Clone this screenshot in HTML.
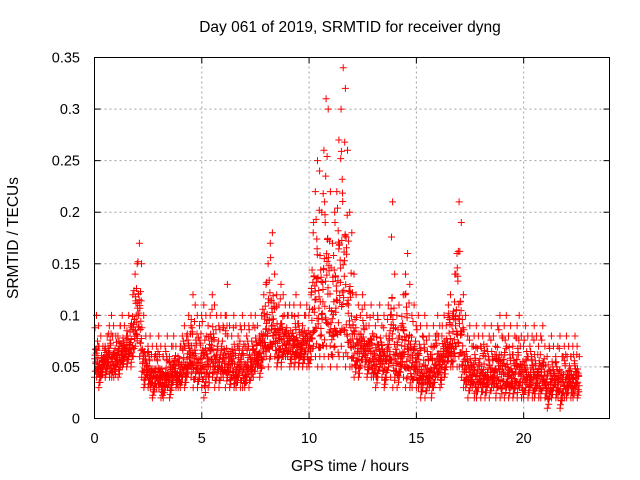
<!DOCTYPE html>
<html><head><meta charset="utf-8"><style>
body{margin:0;background:#fff}
svg{display:block;font-family:"Liberation Sans",sans-serif}
</style></head><body>
<svg id="chart" width="640" height="480" viewBox="0 0 640 480">
<rect width="640" height="480" fill="#fff"/>
<g id="grid"></g>
<g id="ticks"></g>
<path id="pts" fill="none" stroke="#ff0000" stroke-width="1"/>
<rect x="94.5" y="57.5" width="515" height="361" fill="none" stroke="#000" stroke-width="1"/>
<text x="350" y="32" font-size="15.5" text-anchor="middle">Day 061 of 2019, SRMTID for receiver dyng</text>
<text x="350" y="471" font-size="15.5" text-anchor="middle">GPS time / hours</text>
<text x="0" y="0" font-size="15.5" text-anchor="middle" transform="translate(18,238) rotate(-90)">SRMTID / TECUs</text>
</svg>
<script>
const xTicks=[0,5,10,15,20];
const yTicks=[0,0.05,0.1,0.15,0.2,0.25,0.3,0.35];
const yTickLabels=["0","0.05","0.1","0.15","0.2","0.25","0.3","0.35"];
const tStep=0.1;
const hi=[.10,.09,.08,.07,.07,.08,.09,.10,.09,.08,
.08,.09,.10,.09,.08,.10,.09,.12,.14,.15,
.17,.15,.10,.08,.07,.08,.07,.06,.07,.08,
.07,.06,.07,.08,.06,.07,.08,.07,.06,.07,
.08,.09,.08,.10,.09,.12,.11,.10,.09,.10,
.11,.10,.09,.10,.12,.11,.10,.09,.10,.09,
.10,.13,.09,.08,.10,.09,.08,.09,.10,.09,
.08,.09,.10,.09,.10,.09,.08,.10,.12,.13,
.15,.17,.18,.14,.12,.11,.13,.12,.11,.10,
.11,.10,.11,.12,.10,.11,.09,.10,.11,.10,
.12,.18,.22,.25,.24,.20,.26,.31,.30,.22,
.17,.20,.22,.27,.30,.34,.32,.26,.20,.18,
.14,.12,.11,.10,.12,.11,.10,.09,.11,.10,
.09,.10,.11,.09,.10,.08,.11,.10,.21,.14,
.10,.11,.09,.12,.14,.16,.13,.10,.11,.09,
.10,.09,.08,.10,.09,.08,.07,.09,.08,.10,
.09,.08,.10,.09,.11,.12,.10,.14,.16,.21,
.19,.12,.10,.08,.09,.07,.08,.09,.08,.07,
.08,.09,.07,.08,.09,.08,.07,.09,.10,.08,
.09,.10,.08,.09,.07,.08,.09,.10,.08,.07,
.09,.08,.07,.08,.09,.08,.07,.08,.09,.07,
.06,.07,.08,.07,.06,.07,.08,.06,.07,.08,
.07,.06,.07,.08,.07,.06];
const lo=[.04,.04,.03,.04,.05,.04,.05,.04,.04,.04,
.05,.04,.05,.05,.06,.05,.06,.05,.06,.07,
.08,.06,.04,.03,.04,.03,.03,.02,.03,.03,
.03,.02,.02,.03,.03,.02,.03,.04,.03,.03,
.03,.04,.03,.04,.05,.04,.03,.04,.03,.04,
.03,.02,.04,.03,.05,.04,.03,.04,.03,.04,
.04,.03,.04,.03,.04,.03,.03,.04,.03,.03,
.03,.04,.03,.04,.04,.05,.05,.04,.05,.06,
.06,.05,.06,.07,.06,.05,.06,.05,.06,.06,
.06,.05,.06,.05,.06,.05,.06,.05,.06,.05,
.05,.06,.07,.06,.05,.06,.05,.06,.07,.06,
.05,.06,.07,.05,.06,.07,.06,.05,.06,.05,
.05,.04,.05,.04,.05,.06,.05,.04,.05,.04,
.04,.03,.04,.05,.04,.03,.04,.05,.04,.03,
.04,.03,.04,.05,.04,.03,.04,.03,.03,.04,
.03,.03,.02,.03,.02,.03,.03,.02,.03,.04,
.04,.03,.05,.04,.05,.06,.05,.05,.06,.05,
.05,.04,.03,.03,.02,.03,.03,.02,.02,.03,
.02,.03,.02,.03,.02,.03,.03,.02,.03,.02,
.03,.02,.03,.02,.03,.02,.03,.02,.03,.02,
.02,.03,.02,.03,.02,.02,.03,.02,.02,.03,
.02,.01,.02,.02,.03,.02,.02,.01,.02,.02,
.02,.03,.02,.02,.03,.02];
const X0=94.5,X1=609.5,Y0=418.5,Y1=57.5;
const xs=h=>X0+h/24*(X1-X0);
const ys=v=>Y0-v/0.35*(Y0-Y1);
const NS="http://www.w3.org/2000/svg";
const grid=document.getElementById('grid'),ticks=document.getElementById('ticks');
function mk(p,tag,attrs){const e=document.createElementNS(NS,tag);for(const k in attrs)e.setAttribute(k,attrs[k]);p.appendChild(e);return e;}
xTicks.forEach(t=>{const x=xs(t);
 if(t>0){const g=mk(grid,'line',{x1:x,x2:x,y1:Y0,y2:Y1,stroke:'#a0a0a0','stroke-dasharray':'2,3'});
 
 }
 mk(ticks,'line',{x1:x,x2:x,y1:Y0,y2:Y0-6,stroke:'#000'});
 mk(ticks,'line',{x1:x,x2:x,y1:Y1,y2:Y1+6,stroke:'#000'});
 const l=mk(ticks,'text',{x:x,y:443,'font-size':14.5,'text-anchor':'middle'});l.textContent=String(t);
 
 
});
yTicks.forEach((t,i)=>{const y=ys(t);
 if(t>0&&t<0.35){const g=mk(grid,'line',{x1:X0,x2:X1,y1:y,y2:y,stroke:'#a0a0a0','stroke-dasharray':'2,3'});
 
 }
 mk(ticks,'line',{x1:X0,x2:X0+6,y1:y,y2:y,stroke:'#000'});
 mk(ticks,'line',{x1:X1,x2:X1-6,y1:y,y2:y,stroke:'#000'});
 const l=mk(ticks,'text',{x:80,y:y+5,'font-size':14.5,'text-anchor':'end'});l.textContent=yTickLabels[i];
 
 
});
let d='';
const fr=[0.3,0.55,0.8,0.15,0.45,0.7,0.22,0.38,0.1,0.6];
for(let i=0;i<hi.length;i++){
 const n=fr.length+2;
 for(let k=0;k<n;k++){
  let v;
  if(k===0) v=lo[i];
  else if(k===n-1) v=hi[i];
  else { const f=fr[(k-1+i)%fr.length]; v=lo[i]+(hi[i]-lo[i])*f*(k%2?1:0.65); }
  const t=i*tStep+k*tStep/n;
  const x=xs(t),y=ys(v);
  d+='M'+(x-3.5).toFixed(1)+' '+y.toFixed(1)+'h7M'+x.toFixed(1)+' '+(y-3.5).toFixed(1)+'v7';
 }
}
document.getElementById('pts').setAttribute('d',d);
</script>
</body></html>
